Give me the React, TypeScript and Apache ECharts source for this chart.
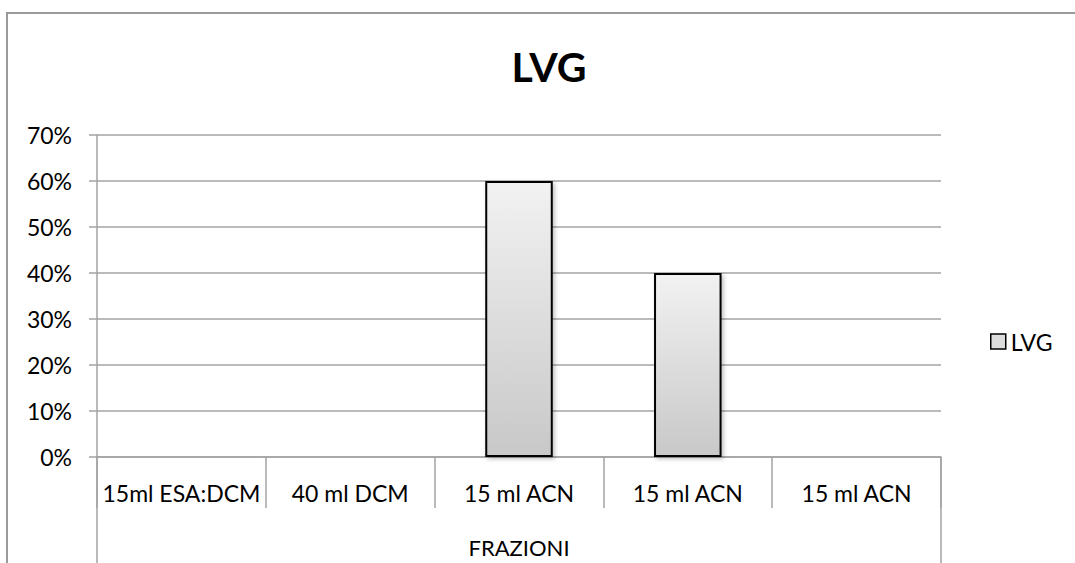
import React, { useEffect, useRef } from "react";
import * as echarts from "echarts";

const chartTitle = "LVG";
const categories = ["15ml ESA:DCM", "40 ml DCM", "15 ml ACN", "15 ml ACN", "15 ml ACN"];
const groupLabels = ["FRAZIONI"];
const seriesName = "LVG";
const values: (number | null)[] = [null, null, 0.6, 0.4, null];
const yMin = 0;
const yMax = 0.7;
const yStep = 0.1;

const FONT = "Lato, 'Open Sans', sans-serif";
const GRID_COLOR = "#a3a3a3";

export default function App() {
  const ref = useRef<HTMLDivElement>(null);
  useEffect(() => {
    if (!ref.current) return;
    const chart = echarts.init(ref.current, null, { renderer: "svg" });
    const barFill = new echarts.graphic.LinearGradient(0, 0, 0, 1, [
      { offset: 0, color: "#f2f2f2" },
      { offset: 1, color: "#c8c8c8" },
    ]);
    chart.setOption({
      animation: false,
      backgroundColor: "#ffffff",
      textStyle: { fontFamily: FONT, color: "#000" },
      title: {
        text: chartTitle,
        left: 549,
        textAlign: "center",
        top: 46,
        padding: 0,
        textStyle: { fontFamily: FONT, fontWeight: "bold", fontSize: 41, color: "#000" },
      },
      graphic: [
        {
          type: "rect",
          shape: { x: 7, y: 13, width: 1200, height: 700 },
          style: { fill: "none", stroke: "#9a9a9a", lineWidth: 2 },
          silent: true,
        },
      ],
      legend: {
        data: [seriesName],
        left: 990,
        top: 330,
        padding: 0,
        icon: "rect",
        itemWidth: 15,
        itemHeight: 15,
        itemGap: 6,
        textStyle: { fontFamily: FONT, fontSize: 23, color: "#000", padding: [0, 0, 0, 0] },
        itemStyle: { color: "#dcdcdc", borderColor: "#000", borderWidth: 1.5 },
      },
      grid: { left: 97, right: 134, top: 135, bottom: 106, containLabel: false },
      xAxis: [
        {
          type: "category",
          data: categories,
          position: "bottom",
          axisLine: { show: true, lineStyle: { color: GRID_COLOR, width: 1.5 } },
          axisTick: { show: true, interval: 0, length: 51, lineStyle: { color: GRID_COLOR, width: 1.5 } },
          axisLabel: {
            interval: 0,
            margin: 36,
            verticalAlign: "middle",
            fontFamily: FONT,
            fontSize: 23,
            color: "#000",
          },
        },
        {
          type: "category",
          data: groupLabels,
          position: "bottom",
          axisLine: { show: false },
          axisTick: { show: true, length: 120, lineStyle: { color: GRID_COLOR, width: 1.5 } },
          axisLabel: {
            margin: 90,
            verticalAlign: "middle",
            fontFamily: FONT,
            fontSize: 22,
            color: "#000",
          },
        },
      ],
      yAxis: {
        type: "value",
        min: yMin,
        max: yMax,
        interval: yStep,
        axisLine: { show: true, lineStyle: { color: GRID_COLOR, width: 1.5 } },
        axisTick: { show: true, length: 8, lineStyle: { color: GRID_COLOR, width: 1.5 } },
        splitLine: { show: true, lineStyle: { color: GRID_COLOR, width: 1.5 } },
        axisLabel: {
          margin: 25,
          fontFamily: FONT,
          fontSize: 23,
          color: "#000",
          formatter: (v: number) => `${Math.round(v * 100)}%`,
        },
      },
      series: [
        {
          name: seriesName,
          type: "bar",
          xAxisIndex: 0,
          data: values,
          barWidth: "40%",
          itemStyle: {
            color: barFill,
            borderColor: "#000",
            borderWidth: 2,
            shadowColor: "rgba(0,0,0,0.25)",
            shadowBlur: 4,
            shadowOffsetX: 2,
            shadowOffsetY: 2,
          },
        },
      ],
    });
    return () => chart.dispose();
  }, []);
  return (
    <div
      ref={ref}
      style={{ position: "fixed", left: 0, top: 0, width: 1075, height: 563 }}
    />
  );
}
